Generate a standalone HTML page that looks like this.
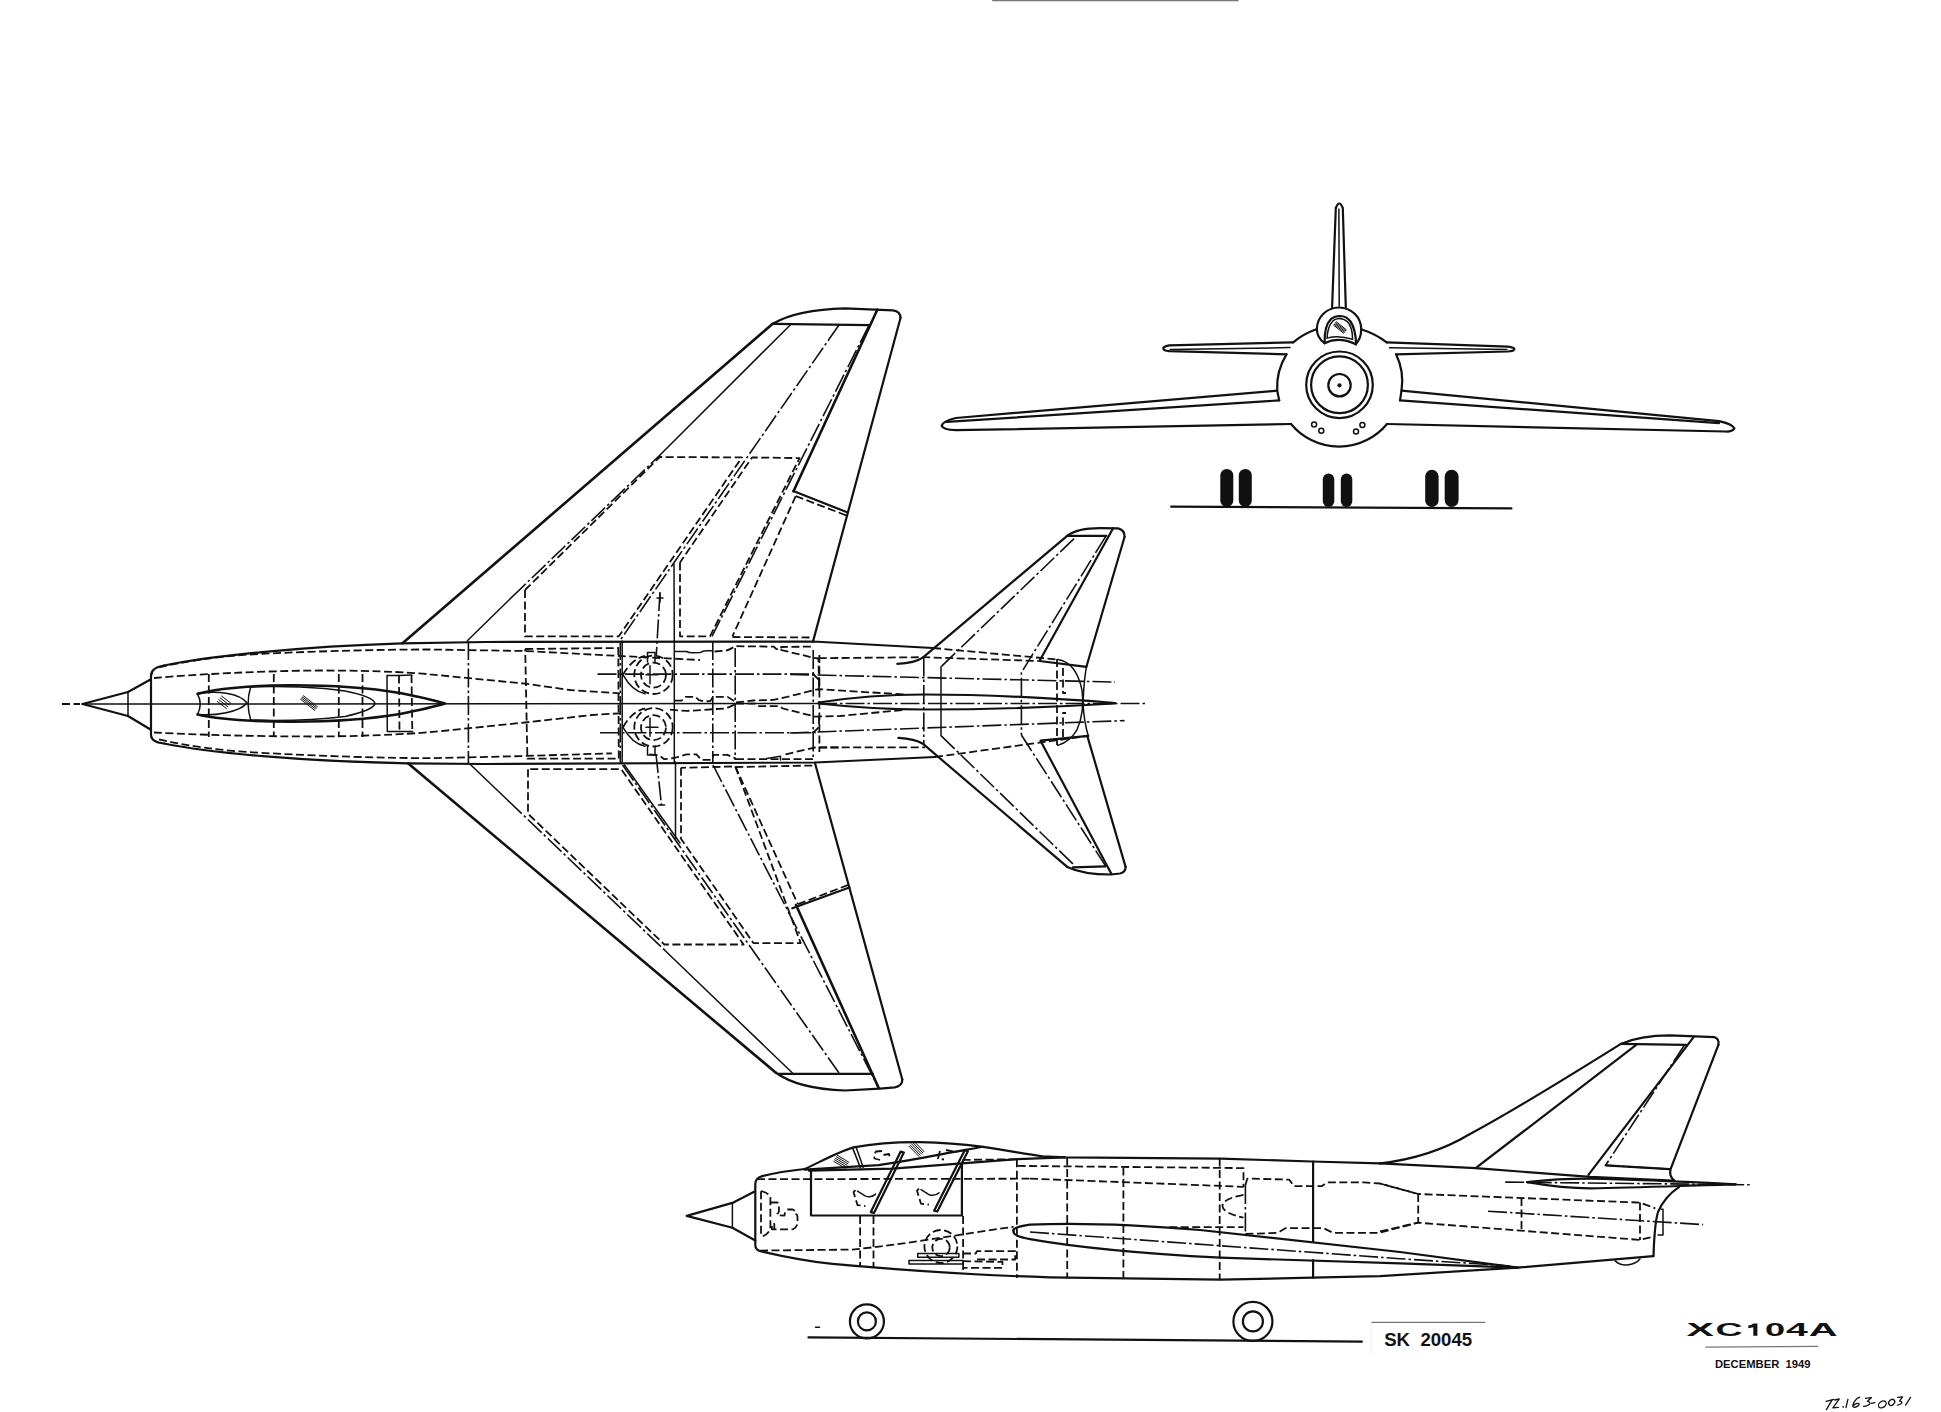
<!DOCTYPE html>
<html><head><meta charset="utf-8"><title>XC104A</title><style>
html,body{margin:0;padding:0;background:#fff;}
body{width:1941px;height:1412px;overflow:hidden;}
svg{display:block;}
path,circle,ellipse,rect,polyline{fill:none;stroke:#111;stroke-linecap:round;stroke-linejoin:round;}
.s{stroke-width:2.2;}
.k{stroke-width:2.6;}
.t{stroke-width:1.5;}
.d{stroke-width:1.8;stroke-dasharray:8 3.5;stroke-linecap:butt;}
.dd{stroke-width:1.6;stroke-dasharray:19 3 2.5 3;stroke-linecap:butt;}
.f{fill:#111;stroke:none;}
.h{stroke-width:1;}
.g{stroke:#777;stroke-width:1.2;}
</style></head>
<body><svg width="1941" height="1412" viewBox="0 0 1941 1412">
<rect x="0" y="0" width="1941" height="1412" style="fill:#fff;stroke:none"/>
<path class="d" d="M62 704L80 704"/>
<path class="t" d="M82 704L818 703.5"/>
<path class="dd" d="M818 703.5 L1148 703.5"/>
<path class="s" d="M128 692 L82.5 704 L128 716"/>
<path class="t" d="M128 692L128 716"/>
<path class="s" d="M128 692L150.5 679.5"/>
<path class="s" d="M128 716L150.5 729.5"/>
<path class="s" d="M164 665.5 Q151 667.5 151 676 L151 735 Q151 742 164 743.5"/>
<path class="s" d="M164 665.5 C 210 656 300 646.5 402 643.3 L 485 642 L 813 641.5 L 933 648"/>
<path class="s" d="M164 743.5 C 210 753 300 761 408 763.3 L 485 764 L 815 762.5 L 935 757"/>
<path class="d" d="M159 667.3 C 190 660.5 220 656 260 653.9 C 320 651 380 649.5 430 649.5 L 525 651 L 620 656 L 700 660"/>
<path class="d" d="M159 739.4 C 190 746.5 220 750.5 260 752.8 C 320 756 380 758 430 758.2 L 525 756 L 612 753.3"/>
<path class="d" d="M154 678 C 200 674 260 671 320 670.5 C 380 670.5 420 673 430 674.4 L 525 683.6 L 570 690 L 620 693.3"/>
<path class="d" d="M154 732.5 C 200 735 260 736.5 320 736.5 C 380 736 420 733 430 732.2 L 525 722.5 L 592 715 L 620 713.3"/>
<path class="d" d="M208.8 674L208.8 737"/>
<path class="d" d="M273.8 674L273.8 737"/>
<path class="d" d="M338.8 674L338.8 737"/>
<path class="d" d="M362.5 674L362.5 737"/>
<path class="k" d="M197.5 693.8 C 220 688 250 685.5 290 685.3 C 330 685.2 370 688 400 693 C 420 697 435 700.5 445 703.5 C 435 706.5 420 710 400 714 C 370 719 330 721.8 290 721.7 C 250 721.5 220 719.5 197.5 714.5"/>
<path class="t" d="M197.5 693.8 Q 203 704 197.5 714.5"/>
<path class="t" d="M198 693.8 C 215 690 240 693 247 703 C 240 712 215 716 198 714.5"/>
<path class="t" d="M250 687 C 280 685.5 320 687 345 691 C 365 695 374 699 375 703.5 C 374 708 365 712 345 716.5 C 320 719.5 280 721 250 720"/>
<path class="t" d="M250.6 687.3 Q 245.5 703.8 250.9 720.8"/>
<path class="h" d="M221.62 696.08L230.62 703.08"/>
<path class="h" d="M220.21 697.89L229.21 704.89"/>
<path class="h" d="M218.79 699.71L227.79 706.71"/>
<path class="h" d="M217.38 701.52L226.38 708.52"/>
<path class="h" d="M303.39 695.73L317.39 706.73"/>
<path class="h" d="M302.46 696.91L316.46 707.91"/>
<path class="h" d="M301.54 698.09L315.54 709.09"/>
<path class="h" d="M300.61 699.27L314.61 710.27"/>
<path class="t" d="M399 675.4 L387 675.4 L387.3 731.5 L399.3 731.5"/>
<path class="t" d="M399 675.4L411.8 675.1"/>
<path class="t" d="M399.3 731.5L412.5 731.5"/>
<path class="d" d="M399 675.4L399.5 731.5"/>
<path class="d" d="M411.5 675.1L412.3 731.5"/>
<path class="dd" d="M468.4 641L468.4 764"/>
<path class="d" d="M525.2 649 L618.3 648 L618.8 758.7 L527.4 758.7 L525.2 649"/>
<path class="dd" d="M620.3 641L620.3 763.5"/>
<path class="t" d="M622.2 641L622.2 763.5"/>
<path class="t" d="M674.3 641L674.3 763.5"/>
<path class="dd" d="M712.8 641L712.8 763.5"/>
<path class="dd" d="M735.2 648L735.2 760"/>
<path class="dd" d="M813.2 650L813.2 758"/>
<path class="d" d="M819.4 655L819.4 752"/>
<circle class="d" cx="653.5" cy="674.8" r="19.2"/>
<circle class="d" cx="653.5" cy="675.0999999999999" r="12.5"/>
<path class="t" d="M650 665.8L650 683.8"/>
<path class="t" d="M646 674.8L658 674.8"/>
<path class="d" d="M623 674.8 Q 632 658.8 645 655.8"/>
<path class="t" d="M623 674.8 Q 632 690.8 645 693.8"/>
<circle class="d" cx="653.5" cy="727.3" r="19.2"/>
<circle class="d" cx="653.5" cy="727.5999999999999" r="12.5"/>
<path class="t" d="M650 718.3L650 736.3"/>
<path class="t" d="M646 727.3L658 727.3"/>
<path class="d" d="M623 727.3 Q 632 711.3 645 708.3"/>
<path class="t" d="M623 727.3 Q 632 743.3 645 746.3"/>
<path class="dd" d="M597.5 674.1L815.7 674.1"/>
<path class="dd" d="M600 732.7L815.7 732.7"/>
<path class="t" d="M647.5 662 L647.5 652.5 L655 652.5 L655 662"/>
<path class="t" d="M647.5 746 L647.5 755 L655 755 L655 746"/>
<path class="t" d="M675 651.5 L686.5 651.5 Q 689 652.8 692 652.8 L700.5 652.4 Q 703 650.7 706 650.7 L712 650.7"/>
<path class="d" d="M714.5 651.5 L726.1 650.7 Q 731 649 735.1 646.2 L773.9 646.6 L776.3 649.1 L780.5 649.1 L781.3 647 L812.6 646.6"/>
<path class="d" d="M780.5 649.9 L813.5 657.7 L818.4 658.5 L819.2 688.6"/>
<path class="d" d="M675 700.6 L681.5 700.6 L685.7 696.9 L695.6 696.9 L698.9 700.2 L704.6 701.4 L710.4 701 L712.9 696.9 L727.7 696.9 L735.1 701.5"/>
<path class="d" d="M736 702.4 L753.3 700.5 L773.1 699.9 L787.1 696.9 L813.5 690.3 L818.4 689.1 L830 689.9 L904.7 694.5"/>
<path class="d" d="M670 709.7 L686.5 710.9 L703 710.1 L712.9 709.2 L726.1 708.4 L736 704"/>
<path class="d" d="M736 703.5 L754.6 703.6 L758.3 706.1 L779.3 706.1 L783 708.5 L815.1 716.6 L840 716 L904.7 709.8"/>
<path class="d" d="M649.5 754.3 L659.4 755.5 L664.3 759.2 L674.2 758 L686.6 754.3 L696.4 754.3 L701.4 759.9 L711.3 759.9 L713.8 754.9 L727.4 754.9 L736 758.6"/>
<path class="d" d="M736 759.2 L815.1 759.2"/>
<path class="t" d="M766.9 758.6 L780.5 756.2 L780.5 759.9"/>
<path class="d" d="M785.5 754.3 L815.1 747.5 L840 747.5"/>
<path class="k" d="M402.5 643.3 L772.7 323.8"/>
<path class="s" d="M772.7 323.8 C 790 313.5 815 309 845 308.3 L 893 310.3 Q 900.5 311.3 900.5 318"/>
<path class="s" d="M900.5 318 L812.9 641.9"/>
<path class="s" d="M772.7 323.8L869.8 325.2"/>
<path class="t" d="M467.3 640.8 L512 597"/>
<path class="dd" d="M512 597 L660 455"/>
<path class="t" d="M660 455 L790 325.2"/>
<path class="d" d="M525 590 L525 636.3 L618.8 636.3 L741.9 457.4 L659.8 457 L525 590"/>
<path class="dd" d="M838.8 325.2 L620 640.5"/>
<path class="d" d="M680 562.5 L680 636.3 L710 636.3 L799.5 458.1 L752.1 457.4 L680 562.5"/>
<path class="t" d="M674 564L674.3 641"/>
<path class="k" d="M877.3 309.7 L793.5 491.2"/>
<path class="dd" d="M868.8 325.6 L712 636.3"/>
<path class="d" d="M795.7 496.1 L732.5 636.3"/>
<path class="s" d="M793.2 491.1L846.5 512"/>
<path class="d" d="M795.7 496.1L846.5 515.5"/>
<path class="dd" d="M660 592 L656.3 655"/>
<path class="t" d="M657 598L663 598"/>
<path class="t" d="M660 594L660 602"/>
<path class="k" d="M408 763.3 L775.6 1072.5"/>
<path class="s" d="M775.6 1072.5 C 790 1083 815 1089.5 845 1090.5 L 880 1088.6 L 895 1087.3 Q 902.3 1086 902.3 1079.5"/>
<path class="s" d="M902.3 1079.5 L814.9 762.7"/>
<path class="s" d="M778.4 1073.9L873 1073.9"/>
<path class="t" d="M469.6 763.7 L508 800.5"/>
<path class="dd" d="M508 800.5 L665 950.5"/>
<path class="t" d="M665 950.5 L794 1074.5"/>
<path class="d" d="M528 769.2 L528 813.7 L664.3 944.5 L743.6 944.5 L621.2 769.2 L528 769.2"/>
<path class="dd" d="M622.6 765 L839.6 1073.9"/>
<path class="t" d="M624.5 765 L680 843"/>
<path class="t" d="M675.5 762L675.5 838.8"/>
<path class="d" d="M681 767.8 L681 838.8 L753.4 943.1 L800.7 943.1 L735.3 766.4 L681 767.8"/>
<path class="dd" d="M713 765 L878.6 1087.8"/>
<path class="k" d="M796 905 L878.6 1087.8"/>
<path class="d" d="M735.3 766.4 L797.9 904.2"/>
<path class="s" d="M792.3 908.3L849.4 887.5"/>
<path class="d" d="M797.9 904.2L849.4 884.5"/>
<path class="dd" d="M656 754 L661.5 805.4"/>
<path class="t" d="M658.5 805L664.5 805"/>
<path class="s" d="M897.3 663.8 Q 915 663 922.8 657.6 L1067.2 535.8"/>
<path class="s" d="M1067.2 535.8 C 1075 530 1085 528.2 1100 528.2 L1118 528.4 Q 1124.6 530 1124.6 536.8"/>
<path class="s" d="M1124.6 536.8 L1086.4 666.8"/>
<path class="s" d="M1067.2 535.8L1106.4 535.8"/>
<path class="s" d="M1113.1 528.2 L1039.5 661 L1086.4 666.8"/>
<path class="dd" d="M1105.5 536.8 L1021.4 672.5 L1021.4 735"/>
<path class="dd" d="M1074 538.7 L941 666.8"/>
<path class="t" d="M941 666.8 L941 735.6"/>
<path class="d" d="M933 648 L1057.7 659.5"/>
<path class="t" d="M1057.7 659.5 Q 1076 662 1082 690 Q 1085 712 1076.8 730.2 Q 1070 742 1057.7 745.4"/>
<path class="t" d="M1086.4 666.8 Q 1084 680 1083 703 Q 1084 722 1088.3 735.9"/>
<path class="s" d="M818.7 702.5 C 860 696 900 694.5 924 694.5 C 980 694.5 1040 697 1115 703"/>
<path class="s" d="M818.7 703.5 C 860 708 900 709.5 924 709.5 C 980 709.5 1040 708 1115 703.5"/>
<path class="d" d="M818.7 658.2 L923.8 657.2 L1038.6 661"/>
<path class="dd" d="M923.8 657.5L923.8 745"/>
<path class="d" d="M818.7 747.4 L925 747.4"/>
<path class="d" d="M813 674 L819 680 L819 693"/>
<path class="d" d="M813 733 L819 727 L819 714"/>
<path class="d" d="M1057 659 L1057 745"/>
<path class="d" d="M1063 668 L1063 693 L1066 693"/>
<path class="d" d="M1063 737 L1063 713 L1066 713"/>
<path class="dd" d="M790 674.4L1115 682.1"/>
<path class="dd" d="M790 733L1124.6 720.6"/>
<path class="s" d="M898.4 737.9 Q 915 739 922.8 743.7 L1067.2 866.9"/>
<path class="s" d="M1067.2 866.9 C 1078 872 1090 874.5 1111 874.5 L1120 873.5 Q 1125.6 872 1125.6 866.9"/>
<path class="s" d="M1125.6 866.9 L1087.3 735.9"/>
<path class="s" d="M1073 867.4L1105.5 866.3"/>
<path class="s" d="M1088.3 735.9 L1040.5 740.7 L1111.2 873.6"/>
<path class="dd" d="M1021.4 735 L1105.5 865.9"/>
<path class="dd" d="M941 735.6 L1074.9 865.9"/>
<path class="d" d="M732.5 637L813 637.5"/>
<path class="d" d="M735.3 767L815 765.5"/>
<path class="d" d="M935 757 L1088.3 735.9"/>
<path class="s" d="M1332.1 307.5 L1335.8 208 Q 1339.3 199 1342.8 208 L1345.8 307.5"/>
<path class="t" d="M1338.9 209L1339.2 306"/>
<path class="s" d="M1324.6 343.2 C 1320 340 1316.9 335 1316.9 329 C 1316.9 317.1 1326.8 307.5 1339.05 307.5 C 1351.3 307.5 1361.2 317.1 1361.2 329.2 C 1361.2 336 1359 341 1355.5 344.2"/>
<path class="s" d="M1324.6 343.2 C 1324.3 333 1326 324 1331 319 C 1334 316.6 1337 316 1339.9 316 C 1344 316.1 1348 318 1350.5 321.5 C 1354 326.5 1355.8 334 1356.1 344.3"/>
<path class="t" d="M1327.1 338.1 C 1327.3 331 1329 325 1332.8 320.9 C 1335 319 1337 318.4 1339.2 318.4 C 1342 318.4 1345 319.5 1347.5 321.8 C 1351 325.5 1352.6 332 1352.5 339.3"/>
<path class="t" d="M1327.1 338.1 Q 1338.6 334.8 1352.4 339.3"/>
<path class="s" d="M1324.6 343.2 Q 1338.6 336.2 1356 344.3"/>
<path class="h" d="M1336.37 321.78L1346.37 329.78"/>
<path class="h" d="M1335.69 322.64L1345.69 330.64"/>
<path class="h" d="M1335.00 323.50L1345.00 331.50"/>
<path class="h" d="M1334.31 324.36L1344.31 332.36"/>
<path class="h" d="M1333.63 325.22L1343.63 333.22"/>
<path class="s" d="M1316.9 329 Q 1303 334 1293.2 342.3"/>
<path class="s" d="M1361.2 329.2 Q 1376 334 1386.6 342.3"/>
<path class="s" d="M1286.5 354.3 A 62.3 62.3 0 0 0 1277.2 390.7 L1279.2 400.4"/>
<path class="s" d="M1396.1 354.3 A 62.3 62.3 0 0 1 1401.5 390.7 L1400 400.4"/>
<path class="s" d="M1291 424 A 62.3 62.3 0 0 0 1387 424"/>
<circle class="s" cx="1339.5" cy="384.8" r="33.3"/>
<circle class="s" cx="1339.5" cy="384.8" r="28.4"/>
<circle class="s" cx="1339.5" cy="385.2" r="11.2"/>
<circle class="f" cx="1339.5" cy="385.3" r="2.1"/>
<circle class="t" cx="1314.1" cy="424.5" r="2.5"/>
<circle class="t" cx="1321.3" cy="430.8" r="2.5"/>
<circle class="t" cx="1362.4" cy="424.9" r="2.5"/>
<circle class="t" cx="1356" cy="431.4" r="2.5"/>
<path class="s" d="M1293.2 342.3 L1169.3 345.4 Q 1162 347 1163.6 348.6 Q 1163 350.5 1169.3 351.1 L1286.5 354.3"/>
<path class="t" d="M1170.2 349.5L1290 347.6"/>
<path class="s" d="M1386.6 342.3 L1507.6 346.7 Q 1515 347.5 1514.3 349.2 Q 1514 351 1507.6 351.5 L1396.1 354.3"/>
<path class="t" d="M1389.5 347.7L1507 349.6"/>
<path class="s" d="M1277.2 390.7 L955.8 418 Q 943 421 941.6 425.7 Q 943 430 955.8 430.2 L1291 424"/>
<path class="s" d="M1279.2 400.4L946.7 421.9"/>
<path class="s" d="M1401.5 390.7 L1719 421.2 Q 1732 424 1734.4 428.3 Q 1732 432 1725.4 431.5 L1387 424"/>
<path class="s" d="M1400 400.4L1719 423.1"/>
<rect class="f" x="1220.3" y="468.9" width="13.0" height="38.1" rx="6.5" ry="6.5"/>
<rect class="f" x="1238.8" y="468.9" width="13.0" height="38.1" rx="6.5" ry="6.5"/>
<rect class="f" x="1322.8" y="473.5" width="11.5" height="33.5" rx="5.8" ry="5.8"/>
<rect class="f" x="1340.8" y="473.5" width="11.5" height="33.5" rx="5.8" ry="5.8"/>
<rect class="f" x="1425.2" y="469.8" width="13.4" height="37.2" rx="6.7" ry="6.7"/>
<rect class="f" x="1444.7" y="469.8" width="13.9" height="37.2" rx="6.9" ry="6.9"/>
<path class="s" d="M1171.1 506.6 L1511.4 508.4"/>
<path class="s" d="M732.4 1202.9 L686.7 1215.9 L732.4 1227.7"/>
<path class="t" d="M732.4 1202.9L732.4 1227.7"/>
<path class="s" d="M732.4 1202.9L754.6 1191.5"/>
<path class="s" d="M732.4 1227.7L755.3 1240.5"/>
<path class="s" d="M762 1176.2 Q 755.3 1178 755.3 1184 L755.3 1245 Q 755.3 1250.5 762 1251.5"/>
<path class="s" d="M762 1176.2 Q 780 1171.5 804.7 1169"/>
<path class="s" d="M804.7 1169 C 820 1162 838 1152 853.4 1147.4 C 875 1143.5 900 1142 920.2 1142.2 C 945 1142.6 965 1144.5 981.4 1146.7 C 1005 1150 1025 1154 1042.6 1156.4 L1065 1157.3 L1220.6 1158.6 L1312.1 1161.5 L1380 1163.4"/>
<path class="s" d="M804.7 1169.6 L 878.5 1165.1 C 900 1162 920 1158.5 934.1 1155.7 C 950 1152.5 968 1149.5 981.4 1147"/>
<path class="s" d="M808.9 1170.6 L 892.4 1168.7 C 915 1167 940 1165 961.9 1163.4 C 985 1161.5 1005 1160 1017.6 1159.2 L 1065 1157.3"/>
<path class="t" d="M852.7 1148.1L860.4 1167.6"/>
<path class="t" d="M856.2 1147.4L863.2 1167.3"/>
<path class="h" d="M837.30 1155.30L848.80 1162.20"/>
<path class="h" d="M836.40 1156.80L847.90 1163.70"/>
<path class="h" d="M835.50 1158.30L847.00 1165.20"/>
<path class="h" d="M834.60 1159.80L846.10 1166.70"/>
<path class="h" d="M833.70 1161.30L845.20 1168.20"/>
<path class="h" d="M914.00 1141.35L924.00 1151.55"/>
<path class="h" d="M912.75 1142.57L922.75 1152.77"/>
<path class="h" d="M911.50 1143.80L921.50 1154.00"/>
<path class="h" d="M910.25 1145.03L920.25 1155.23"/>
<path class="h" d="M909.00 1146.25L919.00 1156.45"/>
<path class="s" d="M811 1169.8 L811 1215.5 L961.9 1215.5 L961.9 1163.4"/>
<path class="s" d="M870.8 1212.1 L900.7 1151.6 L903.9000000000001 1152.6 L874.0 1212.8999999999999 Z"/>
<path class="d" d="M855.5 1190.1 L853.5 1192.1 L857.5 1205.1 L865.5 1206.1"/>
<path class="t" d="M857.5 1191.1 L865.5 1196.1 Q 871.5 1198.1 875.5 1194.1"/>
<path class="s" d="M934.1 1210.7 L964.7 1150.2 L967.9000000000001 1151.2 L937.3000000000001 1211.5 Z"/>
<path class="d" d="M919 1188.7 L917 1190.7 L921 1203.7 L929 1204.7"/>
<path class="t" d="M921 1189.7 L929 1194.7 Q 935 1196.7 939 1192.7"/>
<path class="d" d="M882 1151 L876 1151.5 Q 873.5 1155 874.5 1158.5 L880 1160"/>
<path class="d" d="M883.5 1155 L889 1154 L890 1158"/>
<path class="d" d="M940 1151 L938 1158.5 L944 1159.5"/>
<path class="d" d="M946 1150 L955 1152"/>
<path class="t" d="M955 1152L963.5 1150.5"/>
<path class="d" d="M757 1179.2L1030 1178.7"/>
<path class="d" d="M962.6 1159.9 L1016.2 1159.3"/>
<path class="d" d="M1017.6 1165.9 L1243.5 1168.1 L1243.5 1187.2"/>
<path class="d" d="M1030 1178.6 L1243.5 1186.8"/>
<path class="d" d="M761 1191.2 L761 1237"/>
<path class="d" d="M761 1191.2 Q 768 1192 770.4 1197.4 L770.4 1228.6 Q 768 1235 761 1236.7"/>
<path class="d" d="M770.4 1202.5 L777.4 1202.5 Q 778.9 1203 778.9 1205.2 L778.9 1211.4 Q 778.5 1213.3 777.4 1213.8 L777.4 1215.3 L784.4 1215.7 Q 785 1211 787.5 1209.5 L793 1209.5 Q 794.5 1210 794.5 1211.4 L794.5 1213.8 Q 797.2 1214 797.4 1216 L797.6 1222.3 Q 797.5 1227 793 1229.3 L771.9 1229.3 L771.9 1223.9 L774.3 1223.9 L774.3 1228.6"/>
<path class="s" d="M762 1251.5 C 790 1258 810 1261.5 832.5 1263.9 C 900 1270 980 1275.5 1050 1277.3 L1220.6 1279.6 L1312.1 1277.7 L1380 1276.2 L1517.7 1267.6 L1653.4 1256.1"/>
<path class="d" d="M760 1250.6 L851.6 1249.6 C 900 1245 960 1234.5 1013.6 1226.7"/>
<path class="d" d="M860.1 1216L860.1 1267"/>
<path class="d" d="M873.5 1216L873.5 1268"/>
<path class="d" d="M963.1 1216L963.1 1272"/>
<path class="d" d="M1016.9 1159.2L1016.9 1278"/>
<path class="d" d="M1067.2 1157.5L1067.2 1278"/>
<path class="d" d="M1123.4 1167.5L1123.4 1279"/>
<path class="d" d="M1219.7 1158.6L1219.7 1279.6"/>
<path class="s" d="M1313.1 1161.5L1313.1 1242"/>
<path class="s" d="M1313.1 1260L1313.1 1277.7"/>
<circle class="d" cx="940.9" cy="1246.5" r="16.5"/>
<circle class="d" cx="941" cy="1247.5" r="8.7"/>
<path class="t" d="M909 1260.5 L963 1260.5 L963 1263.9 L909 1263.9 Z"/>
<path class="t" d="M917.7 1253.5 L958.9 1253.5 L958.9 1257.2 L917.7 1257.2 Z"/>
<path class="d" d="M963 1253.5 L975.7 1253.5 L977 1251.2 L1015.2 1251.2 L1015.2 1259.5 L977 1259.5 L975.7 1257"/>
<path class="d" d="M963 1261.2 L1002.5 1261.9 L1002.5 1267.9 L963 1267.9"/>
<path class="s" d="M1013.6 1231 Q 1011 1227.5 1030 1224.7 C 1080 1222.5 1140 1225 1200 1230 L1400 1252 L1517.7 1267.6"/>
<path class="s" d="M1013.6 1231 Q 1012 1236 1030 1239.1 C 1080 1248 1150 1254 1220.6 1257.7 L1400 1263.4 L1517.7 1267.6"/>
<path class="dd" d="M1030 1232 L1400 1258.7 L1510 1266"/>
<path class="d" d="M1169.2 1227.2 L1243.5 1227.2"/>
<path class="d" d="M1245.4 1185.3 L1247.3 1178.6 L1289.2 1179.6 L1294 1186.2 L1321.7 1186.2 L1327.4 1182.4 L1363.6 1182.4 L1380 1183.5 L1418.2 1194"/>
<path class="d" d="M1245.4 1233.9 L1277.8 1232.9 L1285.4 1228.2 L1323.6 1228.2 L1333.1 1232.9 L1378.8 1232.9 L1418.2 1222.7"/>
<path class="dd" d="M1245.4 1185L1245.4 1234"/>
<path class="d" d="M1243.5 1194.8 Q 1222 1199 1222.5 1206.2 Q 1223 1213 1243.5 1217.7"/>
<path class="s" d="M1380 1163.4 L1475.6 1168.2 L1590.3 1176.8 L1672.5 1180.6"/>
<path class="s" d="M1380 1163.4 C 1410 1160 1440 1152 1470 1134 C 1500 1118 1560 1082 1620.9 1043.9"/>
<path class="s" d="M1620.9 1043.9 C 1635 1037.5 1650 1035.3 1670 1035.3 L1714.6 1037.2 Q 1719.5 1039 1718.4 1044.9"/>
<path class="s" d="M1718.4 1044.9 L1670.6 1169.1 Q 1668.5 1176 1674.5 1180.6"/>
<path class="s" d="M1620.9 1043.9L1685.9 1044.9"/>
<path class="s" d="M1693.6 1037.2 L1588.4 1174.9"/>
<path class="dd" d="M1684 1045.8 L1605.6 1165.3 L1669.7 1169.1"/>
<path class="s" d="M1605.6 1165.3 L1669.7 1169.1"/>
<path class="s" d="M1636.2 1044.9L1475.6 1168.2"/>
<path class="s" d="M1527.2 1182.1 C 1550 1179.5 1570 1178.7 1590.3 1178.7 C 1640 1179.5 1690 1182 1735.6 1184.4"/>
<path class="s" d="M1527.2 1182.1 C 1550 1186 1570 1188.3 1590.3 1188.3 C 1640 1187.5 1690 1185.5 1735.6 1184.4"/>
<path class="dd" d="M1505.2 1182.1 L1751 1184.8"/>
<path class="s" d="M1679 1187.2 C 1670 1193 1662 1203 1658 1212 C 1655 1222 1654 1240 1653.5 1256"/>
<path class="t" d="M1615.2 1260.9 Q 1620 1265.5 1627 1265 Q 1636 1264 1640 1259"/>
<path class="d" d="M1380 1183.5 L1418.2 1194 L1640 1202.6 L1655.3 1208.3"/>
<path class="d" d="M1380 1231.3 L1418.2 1222.7 L1640 1239.9 L1655.3 1236.1"/>
<path class="d" d="M1418.2 1194L1418.2 1222.7"/>
<path class="d" d="M1521.5 1198L1521.5 1232"/>
<path class="d" d="M1640 1202.6L1640 1239.9"/>
<path class="dd" d="M1488 1211.2 L1703.1 1224.6"/>
<path class="t" d="M1661 1209.3 L1663 1209.3 L1663 1235.1 L1658 1235.1"/>
<path class="t" d="M815.5 1327.2L819.5 1327.2"/>
<path class="s" d="M808.5 1337.4L1361.9 1341.6"/>
<circle class="s" cx="866.9" cy="1321.4" r="17"/>
<circle class="s" cx="866.9" cy="1321.4" r="9"/>
<circle class="s" cx="1252.9" cy="1321.4" r="19.5"/>
<circle class="s" cx="1252.9" cy="1321.4" r="10"/>
<text x="1384.2" y="1345.5" font-family="Liberation Sans, sans-serif" font-weight="bold" font-size="17.5" textLength="88" lengthAdjust="spacingAndGlyphs" fill="#111">SK&#160;&#160;20045</text>
<path class="g" d="M1371.9 1322.4 L1484.8 1322.4"/>
<path d="M1371.2 1324 L1371.2 1355" style="stroke:#f0f0f0;stroke-width:1"/>
<text x="1686.6" y="1335.8" font-family="Liberation Sans, sans-serif" font-weight="bold" font-size="17.5" textLength="27.5" lengthAdjust="spacingAndGlyphs" fill="#111">X</text>
<text x="1715.5" y="1335.8" font-family="Liberation Sans, sans-serif" font-weight="bold" font-size="17.5" textLength="27.1" lengthAdjust="spacingAndGlyphs" fill="#111">C</text>
<text x="1765.0" y="1335.8" font-family="Liberation Sans, sans-serif" font-weight="bold" font-size="17.5" textLength="20.1" lengthAdjust="spacingAndGlyphs" fill="#111">0</text>
<text x="1786.0" y="1335.8" font-family="Liberation Sans, sans-serif" font-weight="bold" font-size="17.5" textLength="21.8" lengthAdjust="spacingAndGlyphs" fill="#111">4</text>
<text x="1808.7" y="1335.8" font-family="Liberation Sans, sans-serif" font-weight="bold" font-size="17.5" textLength="28.9" lengthAdjust="spacingAndGlyphs" fill="#111">A</text>
<path d="M1753.3 1323.4 L1757.4 1323.4 L1757.4 1335.8 L1753.3 1335.8 L1753.3 1327.3 L1748.3 1328.2 L1748.3 1325.4 Q 1752 1324.8 1753.3 1323.4 Z" class="f"/>
<path class="g" d="M1705.7 1347.1 L1817.5 1346.4"/>
<text x="1715" y="1367.8" font-family="Liberation Sans, sans-serif" font-weight="bold" font-size="10.3" textLength="95.5" lengthAdjust="spacingAndGlyphs" fill="#111">DECEMBER&#160;&#160;1949</text>
<path d="M1826.2 1401.4 L1833.8 1399.4" style="stroke-width:1.3"/>
<path d="M1832.1 1399.9 L1826.4 1409.6" style="stroke-width:1.3"/>
<path d="M1834.8 1400 L1839.3 1398.9 L1832.9 1407.8 L1838.5 1407.4" style="stroke-width:1.3"/>
<path d="M1847.9 1399.4 L1846 1407.6" style="stroke-width:1.3"/>
<path d="M1859.6 1397.2 C 1855 1399 1852.5 1404 1852.8 1406.5 C 1853.5 1408 1857.5 1407 1859.1 1404.6 C 1859.5 1402.6 1856 1403 1854 1405" style="stroke-width:1.3"/>
<path d="M1865.5 1398.4 L1871.4 1397.7 L1867.5 1401.2 Q 1871 1402.4 1869.6 1404.2 Q 1867 1406.3 1863.5 1406.3" style="stroke-width:1.3"/>
<path d="M1871.4 1403.4 L1874.9 1402.6" style="stroke-width:1.3"/>
<path d="M1897.6 1397.4 L1902.6 1396.9 L1899.6 1400.9 Q 1902.6 1401.8 1901.6 1403.4 Q 1900 1405 1897.4 1405.1" style="stroke-width:1.3"/>
<path d="M1910.5 1397.4 L1905.6 1405.1" style="stroke-width:1.3"/>
<ellipse cx="1882.3" cy="1404.4" rx="4.2" ry="3" transform="rotate(-35 1882.3 1404.4)" style="stroke-width:1.3"/>
<ellipse cx="1891.7" cy="1402.4" rx="3.4" ry="2.6" transform="rotate(-45 1891.7 1402.4)" style="stroke-width:1.3"/>
<circle cx="1843.2" cy="1406.8" r="0.9" class="f"/>
<path class="g" d="M992.8 0.6 L1238 0.6" style="stroke-width:1.5"/>
</svg></body></html>
